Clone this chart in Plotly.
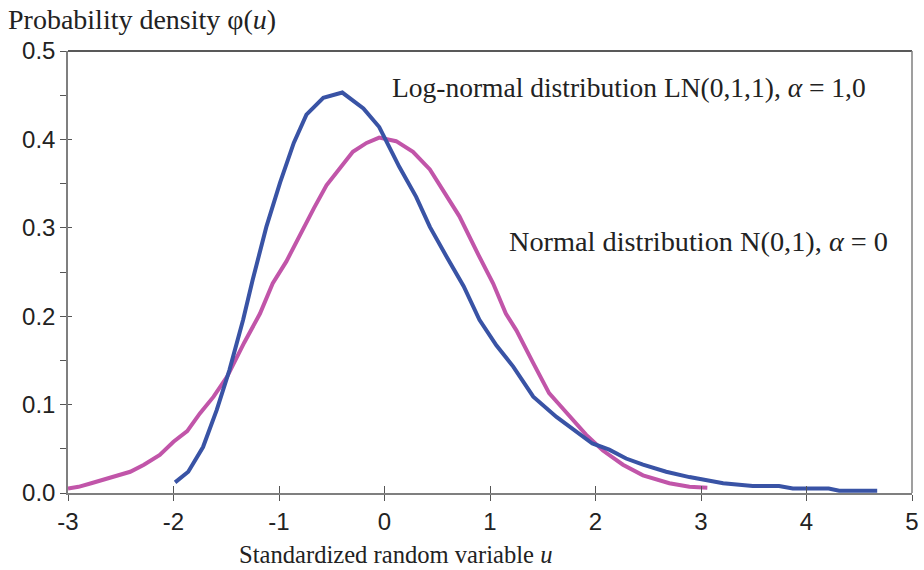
import plotly.graph_objects as go

# ---- data ----
normal_u = [-3.0, -2.9, -2.78, -2.6, -2.41, -2.28, -2.13, -2.0, -1.87, -1.75, -1.62, -1.49,
            -1.33, -1.18, -1.06, -0.93, -0.78, -0.67, -0.55, -0.43, -0.30, -0.17, -0.05,
            0.11, 0.27, 0.43, 0.59, 0.71, 0.90, 1.03, 1.15, 1.25, 1.41, 1.56, 1.65, 1.79,
            1.91, 2.07, 2.26, 2.45, 2.70, 2.89, 3.06]
normal_v = [0.005, 0.007, 0.011, 0.017, 0.024, 0.032, 0.043, 0.058, 0.070, 0.090, 0.109, 0.132,
            0.170, 0.203, 0.237, 0.262, 0.298, 0.322, 0.348, 0.367, 0.386, 0.396, 0.402,
            0.398, 0.386, 0.366, 0.335, 0.313, 0.267, 0.237, 0.203, 0.184, 0.147, 0.113, 0.101, 0.083,
            0.066, 0.048, 0.032, 0.020, 0.011, 0.007, 0.006]

lognormal_u = [-1.985, -1.86, -1.72, -1.59, -1.47, -1.34, -1.25, -1.12, -0.99, -0.86, -0.74,
               -0.58, -0.40, -0.20, -0.05, 0.14, 0.30, 0.43, 0.59, 0.75, 0.90, 1.06, 1.22,
               1.41, 1.63, 1.75, 1.97, 2.13, 2.29, 2.45, 2.67, 2.89, 3.02, 3.21, 3.49, 3.74,
               3.87, 4.21, 4.31, 4.67]
lognormal_v = [0.012, 0.024, 0.052, 0.094, 0.139, 0.196, 0.241, 0.301, 0.351, 0.396, 0.428,
               0.447, 0.453, 0.435, 0.414, 0.369, 0.335, 0.301, 0.267, 0.234, 0.196, 0.167, 0.143,
               0.109, 0.086, 0.075, 0.056, 0.049, 0.039, 0.032, 0.024, 0.018, 0.015, 0.011, 0.008, 0.008,
               0.005, 0.005, 0.0025, 0.0025]

x_ticks = [-3, -2, -1, 0, 1, 2, 3, 4, 5]
x_tick_labels = ["-3", "-2", "-1", "0", "1", "2", "3", "4", "5"]
y_ticks = [0.0, 0.1, 0.2, 0.3, 0.4, 0.5]
y_tick_labels = ["0.0", "0.1", "0.2", "0.3", "0.4", "0.5"]

label_lognormal = "Log-normal distribution LN(0,1,1), <i>α</i> = 1,0"
label_normal = "Normal distribution N(0,1), <i>α</i> = 0"
y_title = "Probability density φ(<i>u</i>)"
x_title = "Standardized random variable <i>u</i>"

BLUE = "#3953a5"
PINK = "#c155a9"
AXIS = "#7f7f7f"
SERIF = "Liberation Serif, Times New Roman, serif"
SANS = "Liberation Sans, Arial, sans-serif"

fig = go.Figure()
fig.add_trace(go.Scatter(x=normal_u, y=normal_v, mode="lines",
                         line=dict(color=PINK, width=4), hoverinfo="skip", showlegend=False))
fig.add_trace(go.Scatter(x=lognormal_u, y=lognormal_v, mode="lines",
                         line=dict(color=BLUE, width=4), hoverinfo="skip", showlegend=False))
# invisible trace on the overlay axes (they carry the inner half of the crossing ticks)
fig.add_trace(go.Scatter(x=lognormal_u, y=lognormal_v, mode="lines", xaxis="x2", yaxis="y2",
                         line=dict(color="rgba(0,0,0,0)", width=0), hoverinfo="skip", showlegend=False))

fig.update_layout(
    width=924, height=570,
    margin=dict(l=68, r=12, t=51, b=77, autoexpand=False),
    plot_bgcolor="white", paper_bgcolor="white",
    xaxis=dict(range=[-3, 5], tickvals=x_ticks, ticktext=x_tick_labels, automargin=False,
               showgrid=False, zeroline=False, showline=True, linecolor=AXIS, linewidth=1.5,
               ticks="outside", ticklen=6, tickwidth=1.3, tickcolor="#555",
               ticklabelstandoff=0,
               tickfont=dict(family=SANS, size=24, color="#222")),
    yaxis=dict(range=[0, 0.5], tickvals=y_ticks, ticktext=y_tick_labels, automargin=False,
               showgrid=False, zeroline=False, showline=True, linecolor=AXIS, linewidth=1.5,
               ticks="outside", ticklen=6, tickwidth=1.3, tickcolor="#555",
               ticklabelstandoff=0,
               minor=dict(ticks="outside", dtick=0.05, ticklen=6, tickwidth=1.3, tickcolor="#555"),
               tickfont=dict(family=SANS, size=24, color="#222")),
    xaxis2=dict(range=[-3, 5], overlaying="x", anchor="y2", tickvals=x_ticks, automargin=False,
                showticklabels=False, showgrid=False, zeroline=False, showline=False,
                ticks="inside", ticklen=7, tickwidth=1.3, tickcolor="#555"),
    yaxis2=dict(range=[0, 0.5], overlaying="y", anchor="x2", tickvals=y_ticks, automargin=False,
                showticklabels=False, showgrid=False, zeroline=False, showline=False,
                ticks="inside", ticklen=4, tickwidth=1.3, tickcolor="#555"),
    shapes=[
        dict(type="line", xref="paper", yref="paper", x0=0, x1=1, y0=1, y1=1,
             line=dict(color="#222", width=1.3)),
        dict(type="line", xref="paper", yref="paper", x0=1, x1=1, y0=0, y1=1,
             line=dict(color=AXIS, width=1.5)),
    ],
    annotations=[
        dict(text=label_lognormal, xref="paper", yref="paper", x=0.3815, y=0.917,
             xanchor="left", yanchor="middle", showarrow=False,
             font=dict(family=SERIF, size=27.5, color="#222")),
        dict(text=label_normal, xref="paper", yref="paper", x=0.520, y=0.5685,
             xanchor="left", yanchor="middle", showarrow=False,
             font=dict(family=SERIF, size=28.3, color="#222")),
        dict(text=y_title, xref="paper", yref="paper", x=-0.0735, y=1.071,
             xanchor="left", yanchor="middle", showarrow=False,
             font=dict(family=SERIF, size=28, color="#222")),
        dict(text=x_title, xref="paper", yref="paper", x=0.3875, y=-0.14,
             xanchor="center", yanchor="middle", showarrow=False,
             font=dict(family=SERIF, size=24.6, color="#222")),
    ],
)

fig.write_html("out.html", config={"displayModeBar": False},
               post_script="document.body.style.margin='0';document.body.style.overflow='hidden';")
